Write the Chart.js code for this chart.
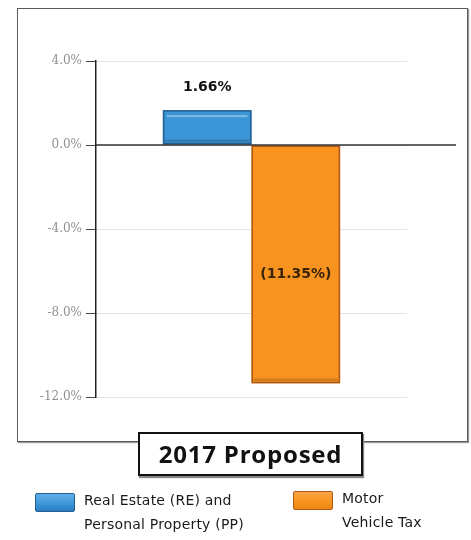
<!DOCTYPE html>
<html>
<head>
<meta charset="utf-8">
<script src="https://cdn.jsdelivr.net/npm/chart.js@4.4.1/dist/chart.umd.min.js"></script>
<style>
  html, body { margin: 0; padding: 0; background: #fff; }
  body { width: 471px; height: 540px; position: relative; overflow: hidden; font-family: "Open Sans", sans-serif; }
  #frame {
    position: absolute; left: 17px; top: 8px; width: 449px; height: 432px;
    border: 1.5px solid #5a5a5a; box-shadow: 1px 1px 1px #999;
  }
  #chartWrap { position: absolute; left: 0; top: 0; width: 471px; height: 540px; }
  #titleBox {
    position: absolute; left: 138px; top: 432px; width: 221px; height: 40px;
    border: 2px solid #111; background: #fff; box-shadow: 1px 2px 1px #888;
    font: bold 24px "Open Sans", sans-serif; color: #111; text-align: center; line-height: 40px;
    letter-spacing: 0.8px;
  }
  .legend-item { position: absolute; display: flex; align-items: flex-start; }
  .swatch { width: 38px; height: 17px; border-radius: 2px; margin-top: 2px; }
  .legend-text { margin-left: 9px; font: 14px "DejaVu Sans", sans-serif; color: #1a1a1a; line-height: 24px; margin-top: -3px; letter-spacing: 0.2px; }
</style>
</head>
<body>
<div id="frame"></div>
<div id="chartWrap"><canvas id="taxChart" width="471" height="540"></canvas></div>
<div id="titleBox"></div>
<div id="legend"></div>
<script>
// Tax revenue change, proposed budget
const chartTitle = '2017 Proposed';
const categories = ['2017 Proposed'];
const seriesNames = [
    ['Real Estate (RE) and', 'Personal Property (PP)'],
    ['Motor', 'Vehicle Tax']
];
const reppValues = [1.66];
const motorVehicleValues = [-11.35];
const yTicks = [4, 0, -4, -8, -12];

const palette = [
    { top: '#62b0ea', mid: '#3b95d6', bottom: '#2c7cc0', edge: '#245e8f' },
    { top: '#fba545', mid: '#f7931e', bottom: '#ef8612', edge: '#a9581a' }
];

function formatPct(v) {
    return v < 0 ? '(' + Math.abs(v).toFixed(2) + '%)' : v.toFixed(2) + '%';
}

// Value labels: above the positive bar, inside the negative bar
const valueLabels = {
    id: 'valueLabels',
    afterDatasetsDraw(chart) {
        const ctx = chart.ctx;
        ctx.save();
        ctx.font = 'bold 14px "DejaVu Sans", sans-serif';
        ctx.textAlign = 'center';
        ctx.textBaseline = 'middle';
        chart.data.datasets.forEach((ds, i) => {
            const meta = chart.getDatasetMeta(i);
            meta.data.forEach((bar, j) => {
                const v = ds.data[j];
                if (v >= 0) {
                    ctx.fillStyle = '#111';
                    ctx.fillText(formatPct(v), bar.x, bar.y - 23);
                } else {
                    ctx.fillStyle = '#3a240c';
                    ctx.fillText(formatPct(v), bar.x, (bar.y + bar.base) / 2 + 10);
                }
            });
        });
        ctx.restore();
    }
};

// Bevelled look on each bar plus the zero line running past the plot
const barBevel = {
    id: 'barBevel',
    afterDatasetsDraw(chart) {
        const ctx = chart.ctx;
        ctx.save();
        chart.data.datasets.forEach((ds, i) => {
            const c = palette[i];
            chart.getDatasetMeta(i).data.forEach(bar => {
                const left = bar.x - bar.width / 2;
                const top = Math.min(bar.y, bar.base);
                const h = Math.abs(bar.base - bar.y);
                if (ds.data[0] >= 0) {
                    ctx.fillStyle = 'rgba(255,255,255,0.35)';
                    ctx.fillRect(left + 4, top + 5, bar.width - 8, 2);
                }
                ctx.fillStyle = 'rgba(0,0,0,0.15)';
                ctx.fillRect(left + 2, top + h - 5, bar.width - 4, 3);
                ctx.strokeStyle = c.edge;
                ctx.lineWidth = 1.5;
                ctx.strokeRect(left + 0.75, top + 0.75, bar.width - 1.5, h - 1.5);
            });
        });
        const y0 = chart.scales.y.getPixelForValue(0);
        ctx.strokeStyle = '#333';
        ctx.lineWidth = 1.3;
        ctx.beginPath();
        ctx.moveTo(chart.chartArea.left, y0);
        ctx.lineTo(456, y0);
        ctx.stroke();
        ctx.restore();
    }
};

const chart = new Chart(document.getElementById('taxChart'), {
    type: 'bar',
    data: {
        labels: categories,
        datasets: [
            {
                label: seriesNames[0].join(' '),
                data: reppValues,
                backgroundColor: palette[0].mid,
                borderWidth: 0
            },
            {
                label: seriesNames[1].join(' '),
                data: motorVehicleValues,
                backgroundColor: palette[1].mid,
                borderWidth: 0
            }
        ]
    },
    options: {
        responsive: false,
        animation: false,
        devicePixelRatio: 1,
        layout: { padding: { left: 0, top: 61, right: 64, bottom: 143 } },
        categoryPercentage: 0.57,
        barPercentage: 1.0,
        scales: {
            x: { display: false },
            y: {
                min: -12,
                max: 4,
                afterFit: s => { s.width = 96; },
                afterBuildTicks: s => { s.ticks = yTicks.map(v => ({ value: v })); },
                ticks: {
                    padding: 4,
                    color: '#909090',
                    font: { family: '"DejaVu Serif", serif', size: 12 },
                    callback: v => v.toFixed(1) + '%'
                },
                grid: { color: '#e4e4e4', lineWidth: 1, tickLength: 10, tickColor: '#444', tickWidth: 1 },
                border: { color: '#222', width: 1.5 }
            }
        },
        plugins: {
            legend: { display: false },
            tooltip: { enabled: false }
        }
    },
    plugins: [barBevel, valueLabels]
});

document.getElementById('titleBox').textContent = chartTitle;

// Legend built from the series names and palette
const legendPos = [{ left: 35, top: 491 }, { left: 293, top: 489 }];
const legend = document.getElementById('legend');
seriesNames.forEach((lines, i) => {
    const item = document.createElement('div');
    item.className = 'legend-item';
    item.style.left = legendPos[i].left + 'px';
    item.style.top = legendPos[i].top + 'px';
    const sw = document.createElement('div');
    sw.className = 'swatch';
    sw.style.background = 'linear-gradient(' + palette[i].top + ',' + palette[i].mid + ' 60%,' + palette[i].bottom + ')';
    sw.style.border = '1px solid ' + palette[i].edge;
    const txt = document.createElement('div');
    txt.className = 'legend-text';
    txt.innerHTML = lines.join('<br>');
    item.appendChild(sw);
    item.appendChild(txt);
    legend.appendChild(item);
});
</script>
</body>
</html>
